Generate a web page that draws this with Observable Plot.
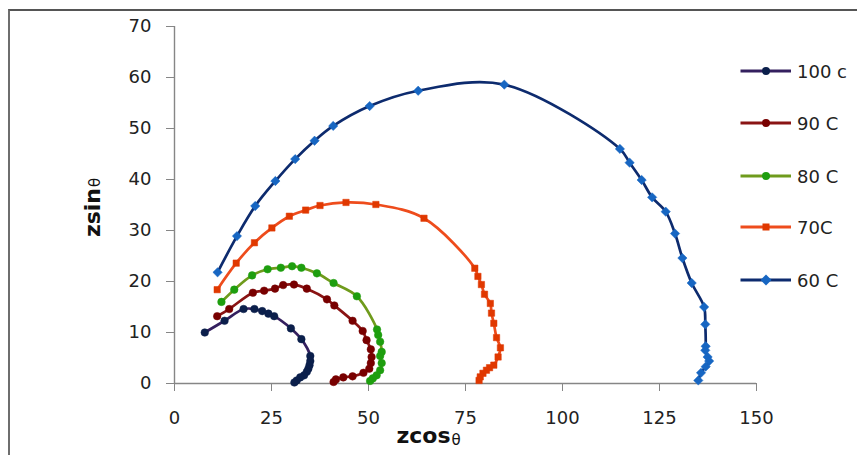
<!DOCTYPE html>
<html><head><meta charset="utf-8">
<script src="https://cdn.jsdelivr.net/npm/d3@7"></script>
<script src="https://cdn.jsdelivr.net/npm/@observablehq/plot@0.6"></script>
<style>
html,body{margin:0;padding:0;background:#fff;overflow:hidden}
#wrap{position:relative;width:857px;height:455px;font-family:"DejaVu Sans",sans-serif;overflow:hidden}
#border{position:absolute;left:8px;top:9px;width:900px;height:500px;border-left:2px solid #6e6e6e;border-top:2px solid #555;pointer-events:none}
#legend{position:absolute;left:740px;top:0}
.item{position:absolute;left:0;height:20px;display:flex;align-items:center;white-space:nowrap;font-size:18px;color:#222}
.item svg{margin-right:6px}
</style></head>
<body><div id="wrap"><div id="border"></div><div id="plot"></div><div id="legend"></div></div>
<script>
// ---- data ----
const seriesNames = ["100 c", "90 C", "80 C", "70C", "60 C"];
const xTicks = [0, 25, 50, 75, 100, 125, 150];
const yTicks = [0, 10, 20, 30, 40, 50, 60, 70];
const xTitle = ["zcos", "θ"];
const yTitle = ["zsin", "θ"];

const x100 = [7.8, 12.9, 17.8, 20.6, 22.6, 24.2, 25.7, 30.0, 32.7, 35.0, 35.0, 34.8, 34.5, 34.1, 33.4, 32.4, 31.5, 30.9];
const y100 = [10.0, 12.3, 14.6, 14.6, 14.2, 13.7, 13.2, 10.8, 8.7, 5.4, 4.4, 3.6, 2.9, 2.3, 1.6, 1.2, 0.6, 0.2];

const x90 = [11.0, 14.1, 20.2, 23.1, 25.9, 28.0, 30.8, 34.1, 39.3, 41.2, 45.9, 48.5, 49.5, 50.6, 50.8, 50.6, 50.2, 48.7, 45.9, 43.5, 41.6, 41.0];
const y90 = [13.2, 14.6, 17.8, 18.2, 18.6, 19.3, 19.4, 18.6, 16.5, 15.3, 12.3, 10.3, 8.5, 6.7, 5.2, 4.0, 2.9, 2.1, 1.4, 1.2, 0.8, 0.3];

const x80 = [12.1, 15.4, 20.0, 24.0, 27.4, 30.3, 32.7, 36.7, 41.0, 47.0, 52.2, 52.5, 53.0, 53.4, 53.0, 53.4, 53.0, 52.1, 51.1, 50.4];
const y80 = [16.0, 18.4, 21.2, 22.4, 22.7, 23.0, 22.7, 21.6, 19.7, 17.1, 10.6, 9.5, 8.2, 6.2, 5.4, 4.0, 2.6, 1.6, 1.0, 0.5];

const x70 = [11.0, 15.9, 20.6, 25.1, 29.6, 33.8, 37.5, 44.2, 51.9, 64.3, 77.4, 78.2, 79.1, 79.9, 81.4, 81.7, 82.3, 83.0, 84.0, 83.4, 82.3, 81.2, 80.4, 79.5, 78.8, 78.5];
const y70 = [18.4, 23.6, 27.6, 30.5, 32.8, 34.0, 34.9, 35.5, 35.1, 32.4, 22.6, 21.0, 19.4, 17.5, 15.7, 13.8, 11.8, 9.0, 7.0, 5.2, 3.6, 3.1, 2.6, 2.0, 1.3, 0.6];

const x60 = [11.1, 16.1, 20.8, 26.0, 31.1, 36.1, 40.9, 50.3, 62.8, 85.0, 114.8, 117.3, 120.4, 123.1, 126.6, 129.0, 130.9, 133.3, 136.5, 136.8, 136.9, 136.8, 137.4, 137.8, 136.9, 135.7, 135.0];
const y60 = [21.8, 28.9, 34.8, 39.7, 44.0, 47.6, 50.5, 54.4, 57.4, 58.6, 46.0, 43.3, 39.9, 36.5, 33.7, 29.4, 24.6, 19.7, 15.0, 11.6, 7.3, 6.5, 5.2, 4.4, 3.3, 2.1, 0.6];

// ---- styles ----
const lineColors = ["#34205f", "#8a1414", "#6f9b1c", "#ee4c1c", "#0d2b6e"];
const markerColors = ["#0b1f4b", "#780000", "#1e9e0f", "#e03800", "#1766c2"];
const symbols = ["circle", "circle", "circle", "square", "diamond2"];
const radii = [3.8, 3.8, 3.8, 3.6, 4.2];

const xs = [x100, x90, x80, x70, x60];
const ys = [y100, y90, y80, y70, y60];

const marks = [
  Plot.ruleY([0], {stroke: "#868686", strokeWidth: 1.4}),
  Plot.ruleX([0], {stroke: "#868686", strokeWidth: 1.4}),
  Plot.axisX({ticks: xTicks, tickSize: 8, tickPadding: 20, stroke: "#868686", fill: "#222", fontSize: 18, label: null, tickFormat: d => String(d)}),
  Plot.axisY({ticks: yTicks, tickSize: 8, tickPadding: 15, stroke: "#868686", fill: "#222", fontSize: 18, label: null, tickFormat: d => String(d)})
];
xs.forEach((xa, k) => {
  const data = xa.map((x, i) => ({x, y: ys[k][i]}));
  marks.push(Plot.line(data, {x: "x", y: "y", stroke: lineColors[k], strokeWidth: 2.7, curve: "catmull-rom"}));
  marks.push(Plot.dot(data, {x: "x", y: "y", fill: markerColors[k], r: radii[k], symbol: symbols[k], stroke: markerColors[k], strokeWidth: 0.5}));
});
// axis titles (main part bold, theta smaller)
marks.push(Plot.text([yTitle[0]], {text: d => d, frameAnchor: "left", dx: -82, dy: -17, textAnchor: "end", rotate: -90, fontSize: 22, fontWeight: "bold", fill: "#111"}));
marks.push(Plot.text([yTitle[1]], {text: d => d, frameAnchor: "left", dx: -79.5, dy: -18, textAnchor: "start", rotate: -90, fontSize: 15, fill: "#111"}));
marks.push(Plot.text([xTitle[0]], {text: d => d, frameAnchor: "bottom", dx: -15, dy: 59, textAnchor: "end", fontSize: 22, fontWeight: "bold", fill: "#111"}));
marks.push(Plot.text([xTitle[1]], {text: d => d, frameAnchor: "bottom", dx: -14, dy: 61.5, textAnchor: "start", fontSize: 15, fill: "#111"}));

const chart = Plot.plot({
  width: 857, height: 455,
  marginLeft: 174, marginRight: 101, marginTop: 26, marginBottom: 72,
  x: {domain: [0, 150]},
  y: {domain: [0, 70]},
  style: {fontFamily: "'DejaVu Sans', sans-serif", background: "transparent", overflow: "visible"},
  marks
});
document.getElementById("plot").appendChild(chart);

// ---- legend ----
const legendY = [71, 123, 176, 227, 280];
const legend = document.getElementById("legend");
seriesNames.forEach((name, k) => {
  const item = document.createElement("div");
  item.className = "item";
  item.style.top = (legendY[k] - 10) + "px";
  let marker;
  if (symbols[k] === "square") marker = `<rect x="22.5" y="6.5" width="7" height="7" fill="${markerColors[k]}"/>`;
  else if (symbols[k] === "diamond2") marker = `<path d="M26,4.5L31.5,10L26,15.5L20.5,10Z" fill="${markerColors[k]}"/>`;
  else marker = `<circle cx="26" cy="10" r="4" fill="${markerColors[k]}"/>`;
  item.innerHTML = `<svg width="51" height="20"><line x1="0.5" x2="51" y1="10" y2="10" stroke="${lineColors[k]}" stroke-width="2.8"/>${marker}</svg><span>${name}</span>`;
  legend.appendChild(item);
});
</script>
</body></html>
